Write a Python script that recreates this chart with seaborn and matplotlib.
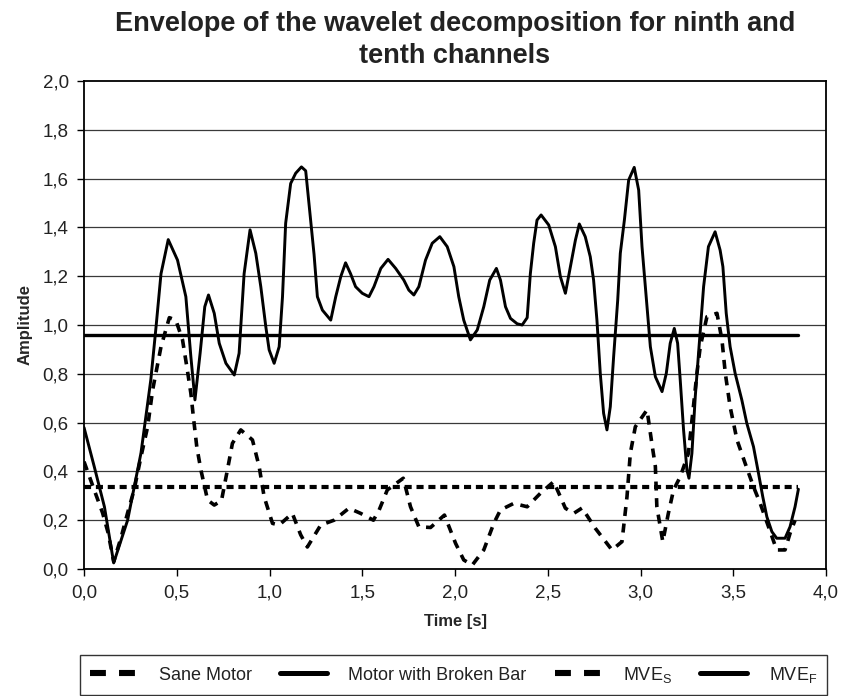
import matplotlib
matplotlib.use("Agg")
import matplotlib.pyplot as plt
import seaborn as sns
from matplotlib.lines import Line2D
from matplotlib.ticker import FixedLocator, FuncFormatter

sns.set_theme(style="white")
plt.rcParams["font.family"] = ["Liberation Sans", "DejaVu Sans"]

# Envelope of the motor with a broken bar
broken_time = [0.0, 0.055, 0.11, 0.16, 0.235, 0.307, 0.36, 0.388, 0.415, 0.454,
               0.504, 0.549, 0.576, 0.598, 0.626, 0.651, 0.671, 0.702, 0.729, 0.765,
               0.81, 0.836, 0.863, 0.895, 0.926, 0.953, 0.98, 0.998, 1.025, 1.052,
               1.07, 1.087, 1.114, 1.141, 1.172, 1.195, 1.218, 1.24, 1.258, 1.285,
               1.33, 1.357, 1.384, 1.41, 1.437, 1.464, 1.5, 1.536, 1.563, 1.6,
               1.639, 1.68, 1.724, 1.751, 1.778, 1.805, 1.841, 1.877, 1.918, 1.958,
               1.994, 2.02, 2.047, 2.083, 2.12, 2.155, 2.187, 2.223, 2.245, 2.272,
               2.299, 2.335, 2.362, 2.389, 2.406, 2.424, 2.442, 2.464, 2.505, 2.541,
               2.568, 2.595, 2.622, 2.649, 2.67, 2.702, 2.729, 2.747, 2.765, 2.783,
               2.801, 2.819, 2.837, 2.855, 2.877, 2.891, 2.913, 2.936, 2.966, 2.99,
               3.008, 3.035, 3.053, 3.08, 3.116, 3.139, 3.16, 3.182, 3.2, 3.214,
               3.232, 3.25, 3.261, 3.277, 3.295, 3.318, 3.34, 3.366, 3.402, 3.429,
               3.444, 3.462, 3.483, 3.51, 3.546, 3.573, 3.609, 3.636, 3.659, 3.681,
               3.708, 3.734, 3.779, 3.806, 3.833, 3.851]
broken_amp = [0.58, 0.42, 0.255, 0.025, 0.2, 0.475, 0.775, 0.99, 1.21, 1.35,
              1.266, 1.116, 0.87, 0.693, 0.885, 1.075, 1.123, 1.048, 0.925, 0.843,
              0.795, 0.884, 1.21, 1.39, 1.294, 1.157, 0.993, 0.898, 0.843, 0.911,
              1.116, 1.417, 1.58, 1.622, 1.648, 1.632, 1.458, 1.29, 1.116, 1.061,
              1.02, 1.116, 1.198, 1.255, 1.21, 1.157, 1.13, 1.116, 1.157, 1.232,
              1.269, 1.232, 1.184, 1.143, 1.123, 1.157, 1.266, 1.335, 1.362, 1.321,
              1.239, 1.116, 1.02, 0.939, 0.98, 1.075, 1.184, 1.232, 1.184, 1.075,
              1.027, 1.005, 1.0, 1.03, 1.21, 1.335, 1.43, 1.451, 1.41, 1.321,
              1.198, 1.13, 1.239, 1.348, 1.414, 1.362, 1.28, 1.184, 1.02, 0.802,
              0.638, 0.57, 0.665, 0.87, 1.102, 1.294, 1.43, 1.594, 1.646, 1.553,
              1.321, 1.075, 0.911, 0.788, 0.727, 0.802, 0.925, 0.986, 0.925, 0.775,
              0.57, 0.406, 0.372, 0.474, 0.706, 0.939, 1.157, 1.321, 1.382, 1.307,
              1.239, 1.048, 0.911, 0.802, 0.693, 0.597, 0.501, 0.392, 0.296, 0.214,
              0.153, 0.126, 0.126, 0.173, 0.255, 0.327]

# Envelope of the sane motor
sane_time = [0.0, 0.055, 0.1, 0.13, 0.16, 0.2, 0.235, 0.27, 0.307, 0.343,
             0.37, 0.415, 0.46, 0.495, 0.531, 0.554, 0.576, 0.59, 0.608, 0.63,
             0.666, 0.702, 0.741, 0.773, 0.8, 0.845, 0.908, 0.944, 0.971, 1.016,
             1.052, 1.123, 1.168, 1.204, 1.276, 1.348, 1.428, 1.491, 1.56, 1.59,
             1.635, 1.721, 1.76, 1.805, 1.868, 1.943, 2.003, 2.047, 2.093, 2.155,
             2.209, 2.245, 2.317, 2.389, 2.46, 2.532, 2.595, 2.64, 2.685, 2.756,
             2.846, 2.9, 2.927, 2.945, 2.972, 3.035, 3.061, 3.08, 3.088, 3.12,
             3.15, 3.178, 3.214, 3.258, 3.285, 3.304, 3.322, 3.358, 3.412, 3.439,
             3.457, 3.483, 3.52, 3.564, 3.609, 3.645, 3.69, 3.734, 3.779, 3.806,
             3.833]
sane_amp = [0.44, 0.324, 0.23, 0.148, 0.03, 0.13, 0.23, 0.324, 0.46, 0.583,
            0.734, 0.911, 1.03, 1.02, 0.939, 0.83, 0.72, 0.62, 0.5, 0.406,
            0.283, 0.262, 0.28, 0.406, 0.515, 0.57, 0.529, 0.42, 0.296, 0.187,
            0.18, 0.228, 0.14, 0.09, 0.18, 0.2, 0.249, 0.228, 0.2, 0.24,
            0.324, 0.372, 0.255, 0.173, 0.17, 0.221, 0.105, 0.037, 0.016, 0.078,
            0.187, 0.242, 0.269, 0.255, 0.31, 0.358, 0.249, 0.228, 0.25, 0.167,
            0.078, 0.112, 0.296, 0.474, 0.583, 0.652, 0.515, 0.42, 0.255, 0.112,
            0.228, 0.324, 0.378, 0.474, 0.665, 0.802, 0.911, 1.034, 1.048, 0.939,
            0.802, 0.665, 0.529, 0.433, 0.337, 0.269, 0.173, 0.078, 0.078, 0.146,
            0.2]

# Mean value of each envelope
mve_span = [0.0, 3.85]
mve_s_level = 0.336
mve_f_level = 0.96

x_ticks = [0.0, 0.5, 1.0, 1.5, 2.0, 2.5, 3.0, 3.5, 4.0]
y_ticks = [0.0, 0.2, 0.4, 0.6, 0.8, 1.0, 1.2, 1.4, 1.6, 1.8, 2.0]

labels = ["Sane Motor", "Motor with Broken Bar",
          r"MVE$_\mathregular{S}$", r"MVE$_\mathregular{F}$"]

fig, ax = plt.subplots(figsize=(8.41, 6.96), dpi=100)
fig.subplots_adjust(left=0.0999, right=0.9822, top=0.8836, bottom=0.1825)

# Horizontal grid
for yv in y_ticks[1:-1]:
    ax.axhline(yv, color="#3a3a3a", lw=0.9, zorder=0)

sns.lineplot(x=sane_time, y=sane_amp, ax=ax, color="black", lw=2.6,
             linestyle=(0, (2.5, 2.1)), sort=False)
sns.lineplot(x=broken_time, y=broken_amp, ax=ax, color="black", lw=2.1,
             sort=False)
sns.lineplot(x=mve_span, y=[mve_s_level] * 2, ax=ax, color="black", lw=3.0,
             linestyle=(0, (1.7, 1.15)))
sns.lineplot(x=mve_span, y=[mve_f_level] * 2, ax=ax, color="black", lw=2.4)

for line in ax.get_lines():
    line.set_solid_joinstyle("round")
    line.set_dash_capstyle("butt")

ax.set_xlim(0, 4.0)
ax.set_ylim(0, 2.0)
comma = FuncFormatter(lambda v, p: f"{v:.1f}".replace(".", ","))
ax.xaxis.set_major_locator(FixedLocator(x_ticks))
ax.yaxis.set_major_locator(FixedLocator(y_ticks))
ax.xaxis.set_major_formatter(comma)
ax.yaxis.set_major_formatter(comma)
ax.tick_params(axis="both", which="major", direction="out", length=5, width=1,
               color="black", labelsize=13.5, labelcolor="#222222", pad=6,
               bottom=True, left=True)
for side in ["left", "right", "top", "bottom"]:
    ax.spines[side].set_visible(True)
    ax.spines[side].set_color("black")
    ax.spines[side].set_linewidth(1.3)

ax.set_xlabel("Time [s]", fontsize=12, fontweight="bold", labelpad=9)
ax.set_ylabel("Amplitude", fontsize=12, fontweight="bold", labelpad=7)
ax.set_title("Envelope of the wavelet decomposition for ninth and\ntenth channels",
             fontsize=19.5, fontweight="bold", color="#222222", pad=13,
             linespacing=1.3)

# Legend keys drawn heavier than the plotted lines
dash_key = dict(color="black", lw=4.4, linestyle=(0, (2.6, 2.15)),
                dash_capstyle="butt")
solid_key = dict(color="black", lw=3.6)
handles = [Line2D([], [], **dash_key), Line2D([], [], **solid_key),
           Line2D([], [], **dash_key), Line2D([], [], **solid_key)]
leg = fig.legend(handles, labels, loc="lower left",
                 bbox_to_anchor=(0.0955, 0.002, 0.888, 0.06), mode="expand",
                 ncol=4, frameon=True, fancybox=False, edgecolor="black",
                 fontsize=13, handlelength=2.6, handletextpad=1.2,
                 borderaxespad=0.0, borderpad=0.55)
leg.get_frame().set_linewidth(1.0)
for t in leg.get_texts():
    t.set_color("#222222")

fig.savefig("out.png", dpi=100)
